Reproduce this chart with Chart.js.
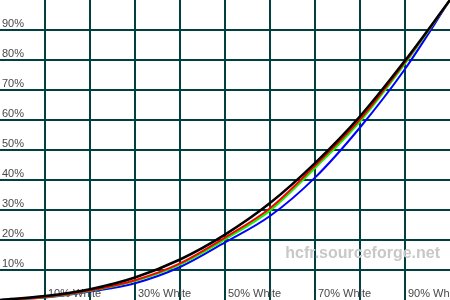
<!DOCTYPE html>
<html>
<head>
<meta charset="utf-8">
<script src="https://cdn.jsdelivr.net/npm/chart.js@4/dist/chart.umd.min.js"></script>
<style>
  html, body { margin: 0; padding: 0; background: #fff; }
  #wrap { width: 450px; height: 300px; }
</style>
</head>
<body>
<div id="wrap"><canvas id="gamma"></canvas></div>
<script>
// gray scale steps (% white) and measured luminance (%)
const steps = [0, 10, 20, 30, 40, 50, 60, 70, 80, 90, 100];
const lumRef   = [0, 1.3, 3.6, 7.5, 13.5, 21.8, 32.3, 45.6, 61.2, 79.8, 100];
const lumRed   = [0, 1.0, 3.2, 6.6, 12.2, 20.8, 30.6, 44.8, 60.2, 79.3, 100];
const lumGreen = [0, 0.9, 3.0, 6.3, 11.8, 20.2, 29.8, 44.0, 59.5, 78.8, 100];
const lumBlue  = [0, 0.8, 2.8, 5.6, 11.0, 19.2, 28.0, 40.8, 57.5, 77, 100];

const yTicks = [10, 20, 30, 40, 50, 60, 70, 80, 90];
const yTickLabels = ['10%', '20%', '30%', '40%', '50%', '60%', '70%', '80%', '90%'];
const xTicks = [10, 30, 50, 70, 90];
const xTickLabels = ['10% White', '30% White', '50% White', '70% White', '90% White'];

const toPoints = vals => steps.map((s, i) => ({ x: s, y: vals[i] }));

const series = [
  { label: 'Reference', data: lumRef, color: '#000000', width: 2.5 },
  { label: 'Red', data: lumRed, color: '#ff0000', width: 2 },
  { label: 'Green', data: lumGreen, color: '#00ff00', width: 2 },
  { label: 'Blue', data: lumBlue, color: '#0000ff', width: 2 }
];

// labels + watermark, drawn under the curves
const labelsPlugin = {
  id: 'hcfrLabels',
  beforeDatasetsDraw(chart) {
    const { ctx, scales: { x, y }, chartArea } = chart;
    ctx.save();
    ctx.font = '11px "Liberation Sans", Arial, sans-serif';
    ctx.fillStyle = '#484848';
    ctx.textBaseline = 'alphabetic';
    ctx.textAlign = 'left';
    yTicks.forEach((v, i) => {
      ctx.fillText(yTickLabels[i], chartArea.left + 2, y.getPixelForValue(v) - 3);
    });
    xTicks.forEach((v, i) => {
      ctx.fillText(xTickLabels[i], x.getPixelForValue(v) + 3, chartArea.bottom - 3);
    });
    ctx.font = 'bold 16px "Liberation Sans", Arial, sans-serif';
    ctx.fillStyle = '#c8c8c8';
    ctx.textAlign = 'right';
    ctx.fillText('hcfr.sourceforge.net', chartArea.right - 10, chartArea.bottom - 42);
    ctx.restore();
  }
};

const gridColor = c => (c.tick && (c.tick.value === 0 || c.tick.value === 100)) ? 'rgba(0,0,0,0)' : '#004040';

new Chart(document.getElementById('gamma'), {
  type: 'line',
  data: {
    datasets: series.map(s => ({
      label: s.label,
      data: toPoints(s.data),
      borderColor: s.color,
      borderWidth: s.width,
      pointRadius: 0,
      cubicInterpolationMode: 'monotone',
      fill: false
    }))
  },
  options: {
    responsive: true,
    maintainAspectRatio: false,
    animation: false,
    layout: { padding: 0 },
    plugins: { legend: { display: false }, tooltip: { enabled: false } },
    scales: {
      x: {
        type: 'linear', min: 0, max: 100,
        ticks: { display: false, stepSize: 10 },
        grid: { color: gridColor, lineWidth: 2, drawTicks: false },
        border: { display: false }
      },
      y: {
        type: 'linear', min: 0, max: 100,
        ticks: { display: false, stepSize: 10 },
        grid: { color: gridColor, lineWidth: 2, drawTicks: false },
        border: { display: false }
      }
    }
  },
  plugins: [labelsPlugin]
});
</script>
</body>
</html>
